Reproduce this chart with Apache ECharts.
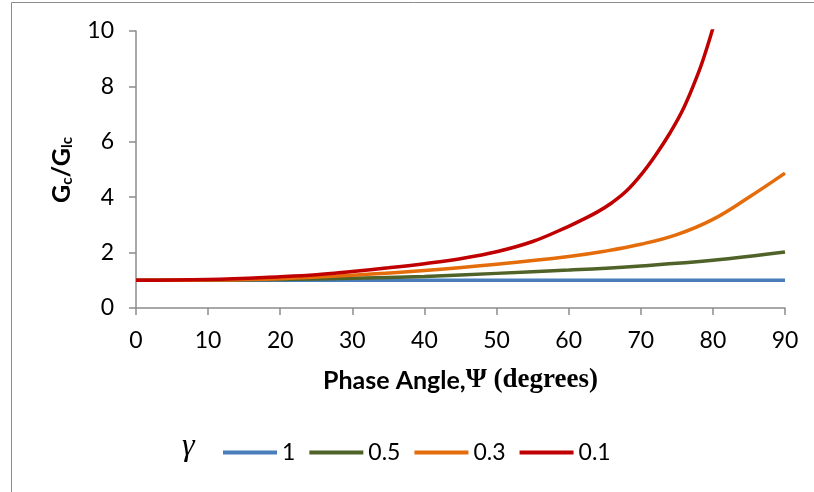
<!DOCTYPE html>
<html><head><meta charset="utf-8">
<script src="https://cdn.jsdelivr.net/npm/echarts@6/dist/echarts.min.js"></script>
<style>html,body{margin:0;padding:0;background:#fff}#c{width:814px;height:492px}</style>
</head><body><div id="c"></div>
<script>
const seriesNames = ['1', '0.5', '0.3', '0.1'];
const xTicks = [0, 10, 20, 30, 40, 50, 60, 70, 80, 90];
const yTicks = [0, 2, 4, 6, 8, 10];

const angles1 = [0, 10, 20, 30, 40, 50, 60, 70, 80, 90];
const vals1   = [1, 1, 1, 1, 1, 1, 1, 1, 1, 1];

const angles05 = [0, 10, 20, 30, 40, 50, 60, 70, 80, 90];
const vals05   = [1, 1.01, 1.03, 1.07, 1.14, 1.25, 1.37, 1.52, 1.72, 2.02];

const angles03 = [0, 10, 20, 30, 40, 50, 60, 65, 70, 75, 80, 85, 90];
const vals03   = [1, 1.01, 1.06, 1.18, 1.35, 1.58, 1.86, 2.05, 2.3, 2.65, 3.2, 4.0, 4.87];

const angles01 = [0, 10, 20, 25, 30, 35, 40, 45, 50, 55, 60, 62, 64, 66, 68, 70, 72, 74, 76, 78, 79, 80];
const vals01   = [1, 1.03, 1.13, 1.2, 1.32, 1.45, 1.6, 1.78, 2.03, 2.4, 2.95, 3.2, 3.47, 3.8, 4.22, 4.8, 5.5, 6.3, 7.25, 8.5, 9.25, 10.1];

const colors = ['#4A7EBB', '#4F6228', '#E46C0A', '#C00000'];
const pairs = (xs, ys) => xs.map((x, i) => [x, ys[i]]);
const dataSets = [pairs(angles1, vals1), pairs(angles05, vals05), pairs(angles03, vals03), pairs(angles01, vals01)];

const FONT = 'Lato, "Open Sans", sans-serif';
const chart = echarts.init(document.getElementById('c'));
chart.setOption({
  animation: false,
  graphic: [
    { type: 'rect', shape: { x: 11.5, y: 2.5, width: 900, height: 600 }, style: { fill: 'none', stroke: '#8c8c8c', lineWidth: 1 }, z: -1 },
    { type: 'text', x: 182, y: 447, style: { text: 'γ', font: 'italic 32px "Liberation Serif", serif', fill: '#000', align: 'left', verticalAlign: 'middle' } },
    { type: 'text', x: 62, y: 170, rotation: Math.PI / 2, style: {
        text: '{b|G}{s|c}{b|/G}{s|lc}', align: 'center', verticalAlign: 'middle',
        rich: {
          b: { font: 'bold 25px ' + FONT, fill: '#000' },
          s: { font: 'bold 15px ' + FONT, fill: '#000', padding: [11, 0, 0, 0] }
        } } }
  ],
  grid: { left: 136, right: 29, top: 31, bottom: 184 },
  legend: {
    data: seriesNames, left: 218, top: 436, itemWidth: 54, itemHeight: 4, itemGap: 14,
    icon: 'rect', textStyle: { fontFamily: FONT, fontSize: 23, color: '#000' }
  },
  xAxis: {
    type: 'value', min: xTicks[0], max: xTicks[xTicks.length - 1], interval: 10,
    axisLine: { lineStyle: { color: '#8c8c8c', width: 1.5 } },
    axisTick: { show: true, length: 7, lineStyle: { color: '#8c8c8c', width: 1.5 } },
    axisLabel: { fontFamily: FONT, fontSize: 23, color: '#000', margin: 21 },
    splitLine: { show: false },
    name: '{a|Phase Angle,}{b|Ψ (degrees)}', nameLocation: 'middle', nameGap: 59,
    nameTextStyle: { rich: {
      a: { fontFamily: FONT, fontWeight: 'bold', fontSize: 25, color: '#000' },
      b: { fontFamily: '"Liberation Serif", serif', fontWeight: 'bold', fontSize: 27, color: '#000' }
    } }
  },
  yAxis: {
    type: 'value', min: yTicks[0], max: yTicks[yTicks.length - 1], interval: 2,
    axisLine: { show: true, lineStyle: { color: '#8c8c8c', width: 1.5 } },
    axisTick: { show: true, length: 7, lineStyle: { color: '#8c8c8c', width: 1.5 } },
    axisLabel: { fontFamily: FONT, fontSize: 23, color: '#000', margin: 22 },
    splitLine: { show: false }
  },
  series: seriesNames.map((n, i) => ({
    name: n, type: 'line', data: dataSets[i], smooth: 0.4, showSymbol: false, clip: true,
    lineStyle: { color: colors[i], width: 3.5 }, itemStyle: { color: colors[i] }, z: 2 + i
  }))
});
</script></body></html>
